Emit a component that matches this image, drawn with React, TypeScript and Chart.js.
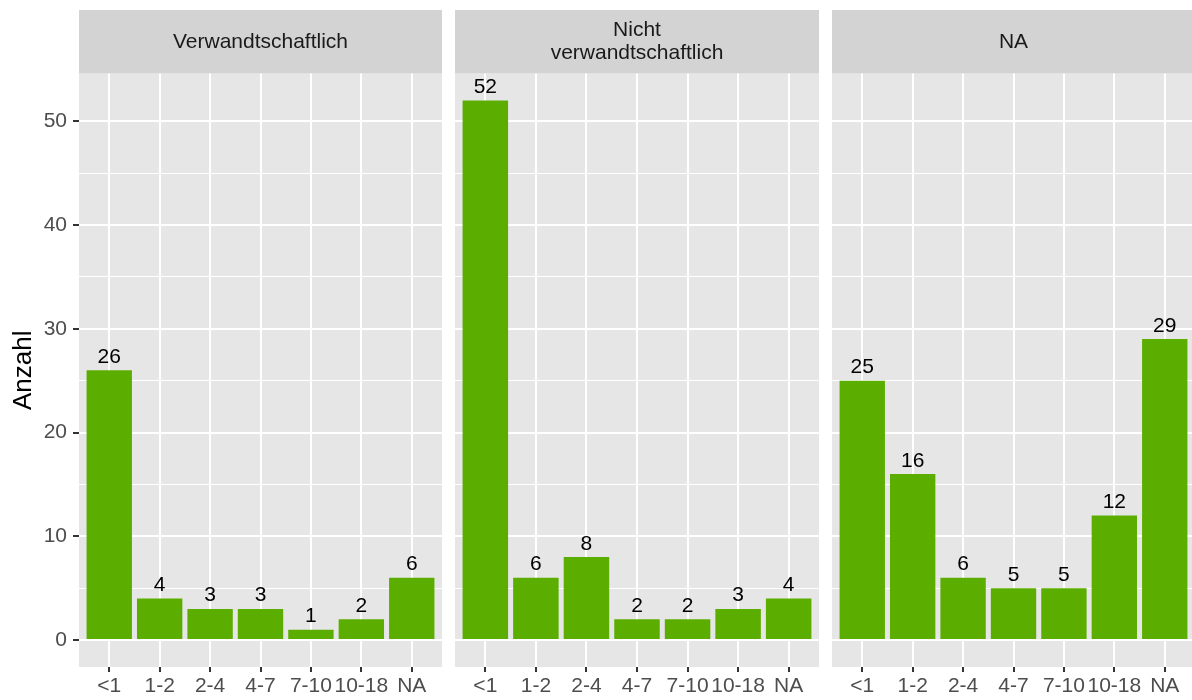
import React, { useEffect, useRef } from 'react';
import { Chart, registerables } from 'chart.js';

Chart.register(...registerables);

const categories = ['<1', '1-2', '2-4', '4-7', '7-10', '10-18', 'NA'];
const panelTitles = [['Verwandtschaftlich'], ['Nicht', 'verwandtschaftlich'], ['NA']];
const verwandtschaftlich = [26, 4, 3, 3, 1, 2, 6];
const nichtVerwandtschaftlich = [52, 6, 8, 2, 2, 3, 4];
const naGruppe = [25, 16, 6, 5, 5, 12, 29];
const yMajorTicks = [0, 10, 20, 30, 40, 50];
const yMinorTicks = [5, 15, 25, 35, 45];
const yTitle = 'Anzahl';

const FONT = '"Liberation Sans", Arial, Helvetica, sans-serif';
const BAR_COLOR = '#5BAE00';
const PANEL_BG = '#E6E6E6';
const STRIP_BG = '#D3D3D3';

type PanelProps = {
  values: number[];
  title: string[];
  showY: boolean;
  left: number;
  width: number;
};

function Panel({ values, title, showY, left, width }: PanelProps) {
  const ref = useRef<HTMLCanvasElement | null>(null);

  useEffect(() => {
    if (!ref.current) return;
    const facetPlugin = {
      id: 'facet',
      beforeDraw(chart: any) {
        const { ctx, chartArea } = chart;
        const w = chartArea.right - chartArea.left;
        ctx.save();
        ctx.fillStyle = PANEL_BG;
        ctx.fillRect(chartArea.left, chartArea.top, w, chartArea.bottom - chartArea.top);
        ctx.fillStyle = STRIP_BG;
        ctx.fillRect(chartArea.left, 0, w, chartArea.top);
        ctx.fillStyle = '#1A1A1A';
        ctx.font = `21px ${FONT}`;
        ctx.textAlign = 'center';
        ctx.textBaseline = 'middle';
        const cx = chartArea.left + w / 2;
        const cy = chartArea.top / 2;
        const lh = 23;
        title.forEach((line, i) => {
          ctx.fillText(line, cx, cy + (i - (title.length - 1) / 2) * lh);
        });
        ctx.restore();
      },
      afterDatasetsDraw(chart: any) {
        const { ctx } = chart;
        const meta = chart.getDatasetMeta(0);
        ctx.save();
        ctx.fillStyle = '#000000';
        ctx.font = `21px ${FONT}`;
        ctx.textAlign = 'center';
        ctx.textBaseline = 'alphabetic';
        meta.data.forEach((el: any, i: number) => {
          ctx.fillText(String(values[i]), el.x, el.y - 7.5);
        });
        ctx.restore();
      },
    };

    const chart = new Chart(ref.current, {
      type: 'bar',
      data: {
        datasets: [
          {
            data: values.map((v, i) => ({ x: i + 1, y: v })),
            backgroundColor: BAR_COLOR,
            borderWidth: 0,
            barPercentage: 0.9,
            categoryPercentage: 1,
          },
        ],
      },
      options: {
        responsive: false,
        animation: false,
        devicePixelRatio: 1,
        layout: { padding: { top: 63.5, left: 0, right: 0, bottom: 0 } },
        plugins: { legend: { display: false }, tooltip: { enabled: false } },
        scales: {
          x: {
            type: 'linear',
            min: 0.4,
            max: 7.6,
            offset: false,
            afterBuildTicks: (s: any) => {
              s.ticks = categories.map((_, i) => ({ value: i + 1 }));
            },
            afterFit: (s: any) => {
              s.height = 33;
            },
            grid: {
              offset: false,
              color: '#FFFFFF',
              lineWidth: 2,
              tickLength: 5,
              tickWidth: 2,
              tickColor: '#333333',
            },
            border: { display: false },
            ticks: {
              color: '#4D4D4D',
              font: { family: FONT, size: 21 },
              padding: 2,
              autoSkip: false,
              maxRotation: 0,
              minRotation: 0,
              callback: (v: any) => categories[Math.round(Number(v)) - 1] ?? '',
            },
          },
          y: {
            type: 'linear',
            min: -2.6,
            max: 54.6,
            afterBuildTicks: (s: any) => {
              s.ticks = [...yMajorTicks, ...yMinorTicks]
                .sort((a, b) => a - b)
                .map((v) => ({ value: v }));
            },
            afterFit: (s: any) => {
              s.width = showY ? 79 : 0;
            },
            grid: {
              color: '#FFFFFF',
              lineWidth: (c: any) => (c.tick && yMajorTicks.includes(c.tick.value) ? 2 : 1),
              drawTicks: showY,
              tickLength: 6,
              tickWidth: 2,
              tickColor: (c: any) =>
                c.tick && yMajorTicks.includes(c.tick.value) ? '#333333' : 'rgba(0,0,0,0)',
            },
            border: { display: false },
            ticks: {
              display: showY,
              autoSkip: false,
              color: '#4D4D4D',
              font: { family: FONT, size: 21 },
              padding: 6,
              callback: (v: any) => (yMajorTicks.includes(Number(v)) ? String(v) : ''),
            },
            title: {
              display: showY,
              text: yTitle,
              color: '#000000',
              font: { family: FONT, size: 26, lineHeight: 1 },
              padding: { top: 11, bottom: 0 },
            },
          },
        },
      } as any,
      plugins: [facetPlugin],
    });
    return () => chart.destroy();
  }, []);

  return (
    <canvas
      ref={ref}
      width={width}
      height={690}
      style={{ position: 'absolute', left, top: 10, width, height: 690 }}
    />
  );
}

export default function App() {
  return (
    <div
      style={{
        position: 'absolute',
        left: 0,
        top: 0,
        width: 1192,
        height: 700,
        overflow: 'hidden',
        background: '#FFFFFF',
      }}
    >
      <Panel values={verwandtschaftlich} title={panelTitles[0]} showY={true} left={0} width={442} />
      <Panel values={nichtVerwandtschaftlich} title={panelTitles[1]} showY={false} left={455} width={364} />
      <Panel values={naGruppe} title={panelTitles[2]} showY={false} left={832} width={363} />
    </div>
  );
}
